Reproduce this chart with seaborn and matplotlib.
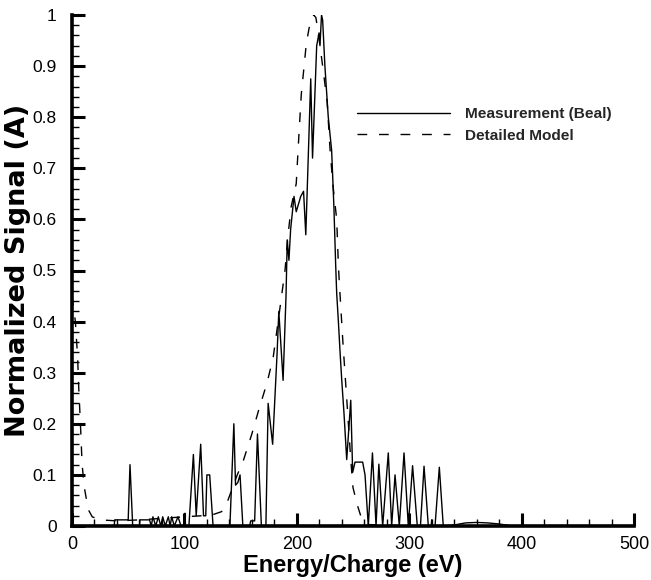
import numpy as np
import pandas as pd
import matplotlib
matplotlib.use("Agg")
import matplotlib.pyplot as plt
import seaborn as sns
from matplotlib.ticker import MultipleLocator

# ---- data ----
meas_energy = [0, 37.5, 38, 50, 51.6, 54, 60, 60.5, 69, 70.5,
               72, 74.5, 76.8, 79, 80.7, 83, 85.7, 87.3, 88.7, 91,
               94.3, 97, 100, 100.5, 101, 104, 108, 110.5, 114.5, 117,
               119, 120, 122.5, 125.5, 140.5, 144, 145.5, 147.5, 149.5, 152,
               158, 159, 162, 162.5, 165, 168.5, 172.5, 174.5, 178.5, 182.5,
               184, 187.8, 190.4, 191.5, 193, 194.5, 197.5, 199.5, 203.5, 206,
               208, 212.4, 214, 217.7, 219.8, 220.6, 222, 223, 225, 228,
               231, 233, 234.6, 235.5, 237, 238.5, 240, 242, 244.4, 248,
               249.7, 251.8, 258.6, 260.7, 263.6, 267.3, 270.5, 273, 276.4, 281.4,
               284.4, 287.4, 291.2, 295.4, 299.2, 303, 307.2, 310, 313.2, 317,
               319.5, 320, 320.5, 323, 326.8, 330.3, 340, 350, 360, 370,
               380, 392, 500]
meas_signal = [0, 0, 0.012, 0.012, 0.12, 0, 0, 0.012, 0.012, 0,
               0.018, 0, 0.018, 0, 0.018, 0, 0.018, 0, 0.018, 0,
               0.018, 0, 0, 0.025, 0, 0, 0.14, 0.02, 0.16, 0.02,
               0.02, 0.10, 0.10, 0, 0, 0.20, 0.08, 0.085, 0.10, 0,
               0, 0.01, 0.01, 0.01, 0.18, 0, 0, 0.24, 0.16, 0.34,
               0.42, 0.285, 0.45, 0.56, 0.52, 0.58, 0.645, 0.615, 0.645, 0.655,
               0.57, 0.875, 0.72, 0.94, 0.965, 0.94, 1.0, 0.99, 0.90, 0.80,
               0.735, 0.625, 0.51, 0.455, 0.40, 0.34, 0.285, 0.22, 0.13, 0.246,
               0.105, 0.125, 0.125, 0.10, 0, 0.143, 0, 0.121, 0, 0.143,
               0, 0.10, 0, 0.143, 0, 0.118, 0, 0, 0.117, 0,
               0, 0.012, 0, 0, 0.115, 0, 0.002, 0.006, 0.007, 0.006,
               0.004, 0, 0]

model_energy = [0, 3, 5, 6, 7.5, 9, 11, 13, 15, 18,
                25, 40, 60, 80, 100, 115, 125, 133, 137, 142,
                147, 152, 160, 166.5, 173.5, 179, 184, 189.5, 192, 195,
                199.5, 202, 204, 206.5, 208.5, 211, 213, 215, 217, 220,
                223, 227, 229.5, 232, 235.5, 237, 238, 241, 245, 248,
                250, 254, 258, 262, 300, 500]
model_signal = [0.45, 0.40, 0.33, 0.27, 0.20, 0.12, 0.075, 0.05, 0.03, 0.018,
                0.012, 0.01, 0.012, 0.015, 0.018, 0.02, 0.022, 0.028, 0.04, 0.07,
                0.10, 0.125, 0.18, 0.23, 0.28, 0.33, 0.41, 0.50, 0.565, 0.625,
                0.67, 0.77, 0.845, 0.90, 0.945, 0.975, 0.99, 1.0, 0.995, 0.95,
                0.90, 0.83, 0.74, 0.67, 0.60, 0.51, 0.47, 0.36, 0.23, 0.13,
                0.075, 0.04, 0.012, 0.003, 0.0, 0.0]

x_ticks = [0, 100, 200, 300, 400, 500]
x_tick_labels = ["0", "100", "200", "300", "400", "500"]
y_ticks = [0, 0.1, 0.2, 0.3, 0.4, 0.5, 0.6, 0.7, 0.8, 0.9, 1.0]
y_tick_labels = ["0", "0.1", "0.2", "0.3", "0.4", "0.5", "0.6", "0.7", "0.8", "0.9", "1"]

series_names = ["Measurement (Beal)", "Detailed Model"]
x_title = "Energy/Charge (eV)"
y_title = "Normalized Signal (A)"

# ---- style ----
sns.set_theme(style="ticks")
plt.rcParams["font.family"] = ["Liberation Sans", "DejaVu Sans"]

W, H = 651, 580
fig = plt.figure(figsize=(W / 100, H / 100), dpi=100)
ax = fig.add_axes([72 / W, 1 - 526 / H, (634 - 72) / W, (526 - 15) / H])

meas = pd.DataFrame({"Energy": meas_energy, "Signal": meas_signal})
model = pd.DataFrame({"Energy": model_energy, "Signal": model_signal})

sns.lineplot(data=meas, x="Energy", y="Signal", ax=ax, color="black",
             linewidth=1.0, sort=False, estimator=None, label=series_names[0])
sns.lineplot(data=model, x="Energy", y="Signal", ax=ax, color="black",
             linewidth=1.0, linestyle=(0, (7, 8.5)), sort=False, estimator=None,
             label=series_names[1])

ax.set_xlim(0, 500)
ax.set_ylim(0, 1)
ax.set_xticks(x_ticks)
ax.set_xticklabels(x_tick_labels)
ax.set_yticks(y_ticks)
ax.set_yticklabels(y_tick_labels)
ax.xaxis.set_minor_locator(MultipleLocator(20))
ax.yaxis.set_minor_locator(MultipleLocator(0.02))

ax.tick_params(which="major", direction="in", length=9.5, width=2.2,
               color="black", labelcolor="black")
ax.tick_params(which="minor", direction="in", length=5, width=1.0, color="black")
ax.tick_params(axis="x", which="major", labelsize=13, pad=7)
ax.tick_params(axis="y", which="major", labelsize=12.5, pad=11)

sns.despine(ax=ax)
for s in ["left", "bottom"]:
    ax.spines[s].set_linewidth(2.6)
    ax.spines[s].set_color("black")

ax.set_xlabel(x_title, fontsize=17, fontweight="bold", labelpad=1, color="black")
ax.set_ylabel(y_title, fontsize=19.5, fontweight="bold", labelpad=1, color="black",
              family=["DejaVu Sans"])

handles, labels = ax.get_legend_handles_labels()
ax.legend(handles, labels, loc="center left",
          bbox_to_anchor=(357 / W, 1 - 125 / H), bbox_transform=fig.transFigure,
          frameon=False, handlelength=6, handletextpad=1.0, borderpad=0,
          borderaxespad=0, labelspacing=0.5,
          prop={"weight": "bold", "size": 11.1})

fig.savefig("out.png", dpi=100)
